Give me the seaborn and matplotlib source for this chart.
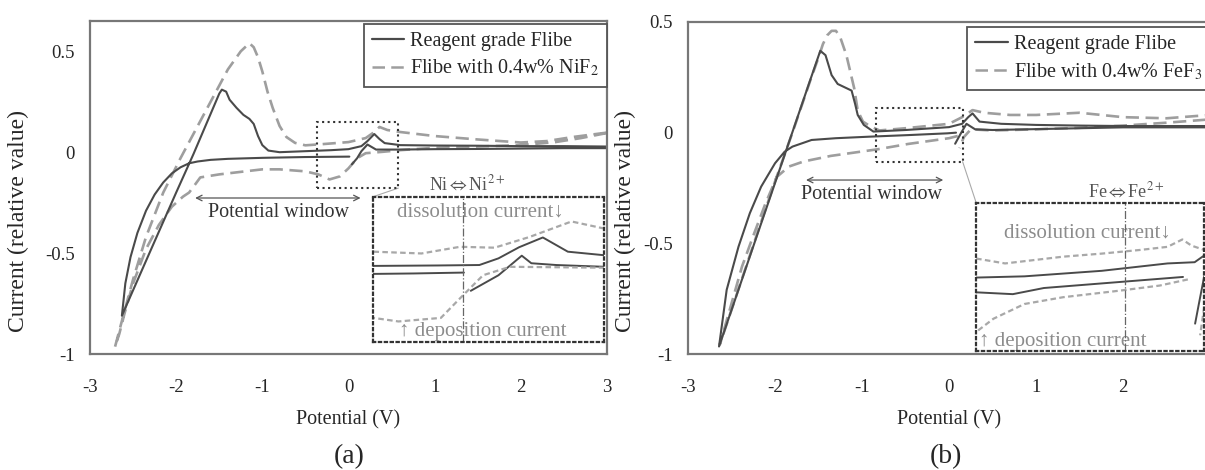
import matplotlib
matplotlib.use("Agg")
import matplotlib.pyplot as plt
import seaborn as sns
from matplotlib.lines import Line2D
from matplotlib.patches import Rectangle

# ---- panel (a): reagent grade Flibe vs Flibe + NiF2 ----
a_solid_x = [0.01, -0.5, -1.0, -1.4, -1.6, -1.75, -1.85, -1.95, -2.05, -2.15, -2.25, -2.35, -2.45, -2.53, -2.59, -2.63,
             -2.3, -2.0, -1.8, -1.6, -1.5, -1.47, -1.42, -1.38, -1.3, -1.22, -1.15, -1.1, -1.05, -1.0, -0.93, -0.8,
             -0.5, -0.2, 0.0, 0.15, 0.22, 0.3, 0.36, 0.42, 0.6, 1.0, 1.5, 2.0, 2.5, 3.0,
             3.0, 2.5, 2.0, 1.5, 1.0, 0.6, 0.32, 0.22, 0.15, 0.1, 0.04]
a_solid_y = [-0.022, -0.024, -0.028, -0.033, -0.038, -0.046, -0.055, -0.075, -0.105, -0.15, -0.21, -0.29, -0.4, -0.52, -0.65, -0.81,
             -0.49, -0.2, -0.01, 0.19, 0.29, 0.31, 0.30, 0.26, 0.22, 0.185, 0.165, 0.14, 0.08, 0.035, 0.008, 0.0,
             0.005, 0.01, 0.015, 0.03, 0.055, 0.09, 0.065, 0.045, 0.035, 0.033, 0.032, 0.03, 0.03, 0.028,
             0.02, 0.02, 0.018, 0.016, 0.015, 0.013, 0.013, 0.038, 0.005, -0.03, -0.06]
a_dash_x = [3.0, 2.7, 2.4, 2.0, 1.5, 1.0, 0.6, 0.4, 0.2, 0.1, 0.0, -0.1, -0.22, -0.35, -0.5, -0.8, -1.0, -1.3, -1.5,
            -1.72, -1.78, -1.85, -1.92, -2.05, -2.2, -2.35, -2.5, -2.6, -2.66, -2.71,
            -2.62, -2.5, -2.35, -2.15, -1.95, -1.75, -1.55, -1.4, -1.25, -1.15, -1.1, -1.05, -1.0, -0.94, -0.88,
            -0.8, -0.72, -0.62, -0.5, -0.3, 0.0, 0.2, 0.3, 0.36, 0.45, 0.6, 1.0, 1.5, 2.0, 2.3, 2.6, 3.0]
a_dash_y = [0.095, 0.07, 0.05, 0.035, 0.028, 0.022, 0.01, 0.002, -0.005, -0.03, -0.08, -0.12, -0.135, -0.11, -0.095,
            -0.085, -0.085, -0.1, -0.11, -0.125, -0.16, -0.2, -0.22, -0.27, -0.36, -0.48, -0.65, -0.8, -0.9, -0.965,
            -0.82, -0.63, -0.42, -0.2, -0.03, 0.13, 0.29, 0.41, 0.5, 0.54, 0.52, 0.47, 0.4, 0.3, 0.22,
            0.13, 0.075, 0.046, 0.034, 0.04, 0.05, 0.07, 0.1, 0.125, 0.11, 0.1, 0.08, 0.063, 0.048, 0.055, 0.075, 0.097]

# inset (a), magnified values near 0 V
ia_solid1_x = [-0.364, -0.2, 0.005]
ia_solid1_y = [-0.025, -0.024, -0.022]
ia_solid2_x = [-0.364, -0.1, 0.068, 0.146, 0.23, 0.327, 0.429, 0.578]
ia_solid2_y = [-0.007, -0.006, -0.005, 0.010, 0.035, 0.057, 0.025, 0.017]
ia_solid3_x = [0.033, 0.146, 0.241, 0.28, 0.382, 0.578]
ia_solid3_y = [-0.063, -0.028, 0.016, -0.001, -0.005, -0.009]
ia_dash1_x = [-0.364, -0.168, -0.011, 0.13, 0.272, 0.444, 0.578]
ia_dash1_y = [0.025, 0.021, 0.036, 0.034, 0.058, 0.093, 0.077]
ia_dash2_x = [0.578, 0.193, 0.083, -0.011, -0.089, -0.262, -0.364]
ia_dash2_y = [-0.011, -0.009, -0.028, -0.08, -0.124, -0.132, -0.124]
ia_mark = 0.0

# ---- panel (b): reagent grade Flibe vs Flibe + FeF3 ----
b_solid_x = [0.08, -0.02, -0.47, -0.91, -1.3, -1.58, -1.8, -1.89, -2.0, -2.16, -2.29, -2.42, -2.556, -2.644,
             -2.4, -2.2, -2.0, -1.8, -1.6, -1.48, -1.42, -1.35, -1.28, -1.2, -1.12, -1.08, -1.05, -0.98, -0.87,
             -0.5, 0.0, 0.15, 0.22, 0.27, 0.35, 0.6, 1.0, 1.5, 2.0, 2.5, 3.0,
             3.0, 2.0, 1.5, 1.0, 0.5, 0.3, 0.2, 0.14, 0.07]
b_solid_y = [0.0, -0.003, -0.011, -0.018, -0.025, -0.033, -0.063, -0.086, -0.138, -0.244, -0.364, -0.515, -0.71, -0.966,
             -0.686, -0.456, -0.227, 0.003, 0.233, 0.37, 0.35, 0.26, 0.22, 0.205, 0.19, 0.13, 0.08, 0.035, 0.005,
             0.012, 0.025, 0.04, 0.07, 0.087, 0.05, 0.04, 0.035, 0.032, 0.03, 0.03, 0.03,
             0.024, 0.024, 0.02, 0.016, 0.012, 0.015, 0.04, 0.0, -0.05]
b_dash_x = [0.1, 0.0, -0.47, -0.82, -1.36, -1.67, -1.84, -1.98, -2.11, -2.24, -2.38, -2.51, -2.636,
            -2.5, -2.2, -2.0, -1.8, -1.6, -1.5, -1.45, -1.4, -1.35, -1.3, -1.25, -1.18, -1.09, -1.05, -0.99, -0.91,
            -0.8, -0.5, 0.0, 0.15, 0.27, 0.4, 0.7, 1.0, 1.5, 2.0, 2.5, 3.0,
            3.0, 2.5, 2.0, 1.5, 1.0, 0.5, 0.25, 0.17, 0.12]
b_dash_y = [-0.015, -0.025, -0.051, -0.075, -0.105, -0.13, -0.153, -0.2, -0.32, -0.455, -0.605, -0.785, -0.958,
            -0.8, -0.45, -0.22, 0.0, 0.23, 0.34, 0.4, 0.44, 0.46, 0.46, 0.43, 0.35, 0.2, 0.1, 0.05, 0.03,
            0.01, 0.02, 0.04, 0.07, 0.102, 0.09, 0.08, 0.08, 0.09, 0.07, 0.065, 0.08,
            0.06, 0.045, 0.032, 0.022, 0.015, 0.01, 0.015, -0.02, -0.07]

# inset (b)
ib_solid1_x = [-0.844, -0.632, -0.293, -0.005, 0.114, 0.156]
ib_solid1_y = [-0.012, -0.01, -0.001, 0.011, 0.013, 0.024]
ib_solid2_x = [-0.844, -0.683, -0.547, -0.208, 0.063]
ib_solid2_y = [-0.036, -0.039, -0.029, -0.019, -0.011]
ib_solid3_x = [0.156, 0.135, 0.116]
ib_solid3_y = [-0.01, -0.05, -0.087]
ib_dash1_x = [-0.844, -0.717, -0.463, -0.293, -0.124, -0.005, 0.06, 0.1, 0.156]
ib_dash1_y = [0.019, 0.011, 0.022, 0.027, 0.033, 0.038, 0.05, 0.04, 0.033]
ib_dash2_x = [-0.835, -0.768, -0.632, -0.463, -0.208, -0.039, 0.097]
ib_dash2_y = [-0.098, -0.079, -0.055, -0.044, -0.033, -0.025, -0.014]
ib_dash3_x = [0.156, 0.138]
ib_dash3_y = [-0.06, -0.106]
ib_mark = -0.19

x_ticks = [-3, -2, -1, 0, 1, 2, 3]
y_ticks = [-1, -0.5, 0, 0.5]
y_ticklabels = ['-1', '-0.5', '0', '0.5']

sns.set_style("white")
plt.rcParams['font.family'] = ['Liberation Serif', 'DejaVu Serif']
plt.rcParams['mathtext.fontset'] = 'stix'

SOLID = '#4a4a4a'
DASH = '#9e9e9e'
FINE = '#a8a8a8'
EDGE = '#777777'

fig = plt.figure(figsize=(12.05, 4.7), dpi=100)
ax_a = fig.add_axes([0.0747, 0.2468, 0.4290, 0.7085])
ax_b = fig.add_axes([0.5710, 0.2468, 0.4332, 0.7064])


def style_axes(ax, ylim):
    ax.set_xlim(-3, 3)
    ax.set_ylim(*ylim)
    ax.set_xticks(x_ticks)
    ax.set_xticklabels([str(t) for t in x_ticks])
    ax.set_yticks(y_ticks)
    ax.set_yticklabels(y_ticklabels)
    ax.tick_params(axis='both', direction='in', length=4, width=1, color=EDGE, labelsize=13.5)
    ax.tick_params(axis='x', pad=18)
    ax.tick_params(axis='y', pad=11)
    for s in ax.spines.values():
        s.set_color(EDGE)
        s.set_linewidth(1.6)
    ax.set_xlabel('Potential (V)', fontsize=14.5, labelpad=10)
    ax.set_ylabel('Current (relative value)', fontsize=17)


def curve(ax, xs, ys, color, lw, ls):
    sns.lineplot(x=xs, y=ys, sort=False, estimator=None, ax=ax, color=color,
                 linewidth=lw, linestyle=ls, legend=False)


def make_inset(ax, box, rect, solids, dashes, mark):
    bx0, bx1, by0, by1 = box
    ax.add_patch(Rectangle((bx0, by0), bx1 - bx0, by1 - by0, fill=False, ls=':', lw=1.5, ec='#333333', zorder=4))
    ix = ax.inset_axes(rect, transform=ax.transData)
    ix.set_xlim(bx0, bx1)
    ix.set_ylim(by0, by1)
    ix.set_xticks([])
    ix.set_yticks([])
    ix.patch.set_alpha(0)
    for s in ix.spines.values():
        s.set_linestyle(':')
        s.set_linewidth(1.6)
        s.set_color('#333333')
    for xs, ys in solids:
        curve(ix, xs, ys, SOLID, 1.4, '-')
    for xs, ys in dashes:
        curve(ix, xs, ys, FINE, 1.6, (0, (2.5, 1.5)))
    ix.axvline(mark, color='#666666', lw=0.9, ls='-.')
    # connector from zoom box to inset
    ax.plot([bx1, rect[0]], [by0, rect[1] + rect[3]], color='#aaaaaa', lw=0.8)
    return ix


handles_a = [Line2D([], [], color=SOLID, lw=1.6, ls='-'),
             Line2D([], [], color=DASH, lw=1.8, ls=(0, (5, 2.5)))]

# ---- panel (a) ----
style_axes(ax_a, (-1, 0.65))
curve(ax_a, a_dash_x, a_dash_y, DASH, 1.9, (0, (5, 2.5)))
curve(ax_a, a_solid_x, a_solid_y, SOLID, 1.5, '-')
make_inset(ax_a, (-0.364, 0.578, -0.178, 0.149), [0.29, -0.94, 2.68, 0.72],
           [(ia_solid1_x, ia_solid1_y), (ia_solid2_x, ia_solid2_y), (ia_solid3_x, ia_solid3_y)],
           [(ia_dash1_x, ia_dash1_y), (ia_dash2_x, ia_dash2_y)], ia_mark)
ax_a.annotate('', xy=(-1.78, -0.227), xytext=(0.14, -0.227),
              arrowprops=dict(arrowstyle='<->', color='#555555', lw=0.9, shrinkA=0, shrinkB=0))
ax_a.text(-0.81, -0.297, 'Potential window', fontsize=14.5, color='#333333', ha='center', va='center')
ax_a.text(1.38, -0.158, r'Ni$\Leftrightarrow$Ni$^{2+}$', fontsize=13, color='#555555', ha='center', va='center')
ax_a.text(1.53, -0.297, 'dissolution current\u2193', fontsize=15, color='#8c8c8c', ha='center', va='center')
ax_a.text(1.56, -0.89, '\u2191 deposition current', fontsize=15, color='#8c8c8c', ha='center', va='center')
ax_a.legend(handles_a, ['Reagent grade Flibe', 'Flibe with 0.4w% NiF$_2$'], loc='upper right',
            bbox_to_anchor=(1.0, 0.992), borderaxespad=0, fontsize=14.5, handlelength=1.6, handletextpad=0.3,
            labelspacing=0.35, fancybox=False, framealpha=1, edgecolor='#555555')
ax_a.get_legend().get_frame().set_linewidth(1.3)
ax_a.yaxis.set_label_coords(-0.118, 0.4)

# ---- panel (b) ----
style_axes(ax_b, (-1, 0.5))
curve(ax_b, b_dash_x, b_dash_y, DASH, 1.9, (0, (5, 2.5)))
curve(ax_b, b_solid_x, b_solid_y, SOLID, 1.5, '-')
make_inset(ax_b, (-0.844, 0.156, -0.131, 0.11), [0.311, -0.985, 2.622, 0.669],
           [(ib_solid1_x, ib_solid1_y), (ib_solid2_x, ib_solid2_y), (ib_solid3_x, ib_solid3_y)],
           [(ib_dash1_x, ib_dash1_y), (ib_dash2_x, ib_dash2_y), (ib_dash3_x, ib_dash3_y)], ib_mark)
ax_b.annotate('', xy=(-1.644, -0.214), xytext=(-0.067, -0.214),
              arrowprops=dict(arrowstyle='<->', color='#555555', lw=0.9, shrinkA=0, shrinkB=0))
ax_b.text(-0.89, -0.278, 'Potential window', fontsize=14.5, color='#333333', ha='center', va='center')
ax_b.text(2.04, -0.263, r'Fe$\Leftrightarrow$Fe$^{2+}$', fontsize=13, color='#555555', ha='center', va='center')
ax_b.text(1.59, -0.454, 'dissolution current\u2193', fontsize=15, color='#8c8c8c', ha='center', va='center')
ax_b.text(1.31, -0.943, '\u2191 deposition current', fontsize=15, color='#8c8c8c', ha='center', va='center')
ax_b.legend(handles_a, ['Reagent grade Flibe', 'Flibe with 0.4w% FeF$_3$'], loc='upper right',
            bbox_to_anchor=(1.0, 0.985), borderaxespad=0, fontsize=14.5, handlelength=1.6, handletextpad=0.3,
            labelspacing=0.35, fancybox=False, framealpha=1, edgecolor='#555555')
ax_b.get_legend().get_frame().set_linewidth(1.3)
ax_b.yaxis.set_label_coords(-0.1, 0.4)

fig.text(0.29, 0.028, '(a)', fontsize=20, ha='center', va='center')
fig.text(0.785, 0.028, '(b)', fontsize=20, ha='center', va='center')

fig.savefig('out.png', dpi=100)
